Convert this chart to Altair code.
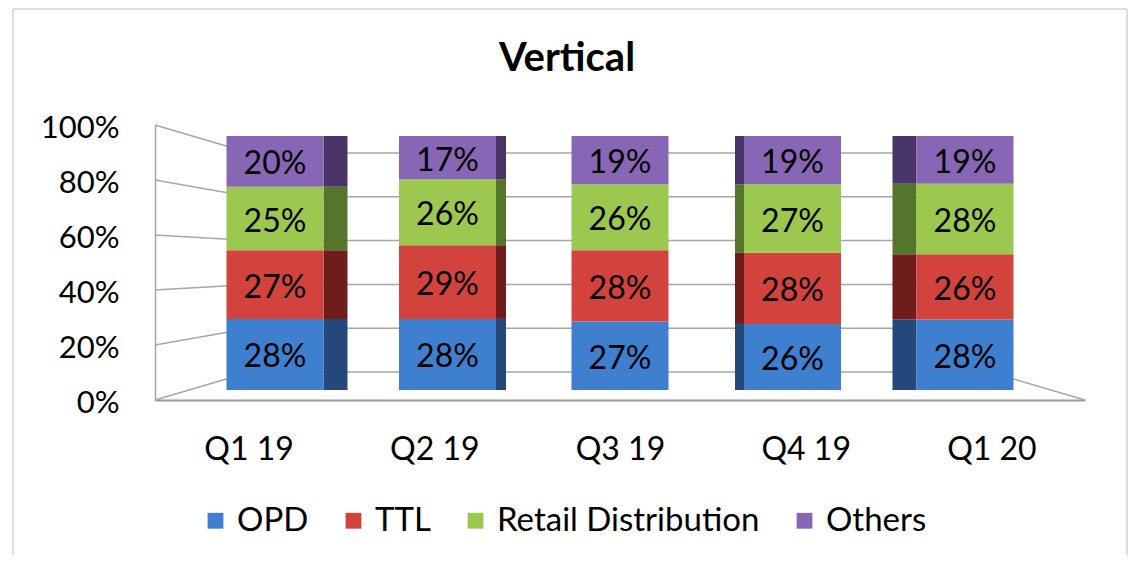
import altair as alt
import pandas as pd

quarters = ["Q1 19", "Q2 19", "Q3 19", "Q4 19", "Q1 20"]
segments = ["OPD", "TTL", "Retail Distribution", "Others"]
opd = [28, 28, 27, 26, 28]
ttl = [27, 29, 28, 28, 26]
retail = [25, 26, 26, 27, 28]
others = [20, 17, 19, 19, 19]
y_ticks = [0, 0.2, 0.4, 0.6, 0.8, 1.0]

front_colors = ["#3F7FCF", "#D2433E", "#9DC84F", "#8767B5"]
side_colors = ["#24487A", "#6E1D1B", "#55752C", "#4A3568"]

rows = []
for i, q in enumerate(quarters):
    for j, (s, vals) in enumerate(zip(segments, [opd, ttl, retail, others])):
        rows.append(dict(quarter=q, segment=s, order=j, value=vals[i]))
df = pd.DataFrame(rows)

W, H = 930, 275
FONT = "Lato"
GRID = "#A6A6A6"

bar_dom = [-10 / 254, 265 / 254]
back_dom = [-28 / 219, 247 / 219]

base = (
    alt.Chart(df)
    .transform_joinaggregate(total="sum(value)", groupby=["quarter"])
    .transform_calculate(frac="datum.value / datum.total")
    .transform_stack(stack="frac", groupby=["quarter"],
                     sort=[alt.SortField("order", "ascending")], as_=["y0", "y1"])
    .transform_calculate(mid="(datum.y0 + datum.y1) / 2", label="datum.value + '%'")
)

x_scale = alt.Scale(type="band", domain=quarters, paddingInner=0.4377, paddingOuter=0.4145)

bars = base.mark_bar().encode(
    x=alt.X("quarter:N", sort=quarters, scale=x_scale, axis=None),
    y=alt.Y("y0:Q", scale=alt.Scale(domain=bar_dom), axis=None),
    y2="y1:Q",
    color=alt.Color("segment:N", sort=segments,
                    scale=alt.Scale(domain=segments, range=front_colors),
                    legend=alt.Legend(orient="none", legendX=44, legendY=379,
                                      direction="horizontal", title=None,
                                      symbolType="square", symbolSize=250,
                                      symbolStrokeWidth=0, labelLimit=500,
                                      labelFont=FONT, labelFontSize=33, labelColor="black",
                                      labelOffset=5, columnPadding=28, padding=0)),
    order=alt.Order("order:Q", sort="ascending"),
)

texts = base.mark_text(font=FONT, fontSize=32, color="black", baseline="middle", dy=3).encode(
    x=alt.X("quarter:N", sort=quarters, scale=x_scale, axis=None, bandPosition=0.5),
    y=alt.Y("mid:Q", scale=alt.Scale(domain=bar_dom), axis=None),
    text="label:N",
)

side_specs = [("Q1 19", 24, 60.5), ("Q2 19", 10, 53.5), ("Q4 19", 9, -53), ("Q1 20", 24, -60.5)]
sides = []
for q, w, off in side_specs:
    sides.append(
        base.transform_filter(alt.datum.quarter == q)
        .mark_bar(width=w, xOffset=off)
        .encode(
            x=alt.X("quarter:N", sort=quarters, scale=x_scale, axis=None),
            y=alt.Y("y0:Q", scale=alt.Scale(domain=bar_dom), axis=None),
            y2="y1:Q",
            color=alt.Color("segment:N", scale=alt.Scale(domain=segments, range=side_colors),
                            legend=None),
        )
    )

# category axis lying on the front floor plane
xaxis_layer = alt.Chart(pd.DataFrame({"quarter": quarters})).mark_point(opacity=0).encode(
    x=alt.X("quarter:N", sort=quarters,
            scale=alt.Scale(type="point", domain=quarters, padding=0.504),
            axis=alt.Axis(orient="bottom", title=None, labelFont=FONT, labelFontSize=32,
                          labelColor="black", labelPadding=34, ticks=False, tickSize=0,
                          domain=True, domainColor="#999999", domainWidth=2,
                          labelAngle=0, grid=False)),
    y=alt.value(H),
)

ticks_df = pd.DataFrame({"v": y_ticks})

slant = (
    alt.Chart(ticks_df)
    .transform_calculate(u="(28 + 219 * datum.v) / 275")
    .mark_rule(color=GRID, strokeWidth=1.5)
    .encode(
        x=alt.value(0), x2=alt.value(95),
        y=alt.Y("v:Q", scale=alt.Scale(domain=[0, 1]),
                axis=alt.Axis(orient="left", values=y_ticks, format=".0%", title=None,
                              labelFont=FONT, labelFontSize=31, labelColor="black",
                              labelPadding=36, labelOffset=3, ticks=False, tickSize=0,
                              grid=False, domain=True, domainColor=GRID, domainWidth=1.5)),
        y2="u:Q",
    )
)

back = alt.Chart(ticks_df).mark_rule(color=GRID, strokeWidth=1.5).encode(
    x=alt.value(95), x2=alt.value(835),
    y=alt.Y("v:Q", scale=alt.Scale(domain=back_dom), axis=None),
)

right_slant = (
    alt.Chart(pd.DataFrame({"v": [0]}))
    .transform_calculate(u="28 / 275")
    .mark_rule(color=GRID, strokeWidth=1.5)
    .encode(
        x=alt.value(835), x2=alt.value(930),
        y=alt.Y("u:Q", scale=alt.Scale(domain=[0, 1]), axis=None),
        y2="v:Q",
    )
)

frame = alt.Chart(pd.DataFrame({"a": [0]})).mark_rect(
    fillOpacity=0, stroke="#BFBFBF", strokeWidth=1
).encode(x=alt.value(-142), x2=alt.value(972), y=alt.value(-116), y2=alt.value(470))

chart = (
    alt.layer(frame, back, slant, right_slant, xaxis_layer, *sides, bars, texts)
    .resolve_scale(x="independent", y="independent", color="independent")
    .properties(
        width=W, height=H,
        autosize="none",
        padding={"left": 147, "top": 117, "right": 44, "bottom": 155},
        title=alt.TitleParams("Vertical", font=FONT, fontSize=40, fontWeight="bold",
                              color="black", anchor="middle", frame="group", dx=-53,
                              offset=-110, baseline="bottom"),
        background="white",
    )
    .configure_view(stroke=None)
)

chart.save("out.html", embed_options={"renderer": "svg", "actions": False})
